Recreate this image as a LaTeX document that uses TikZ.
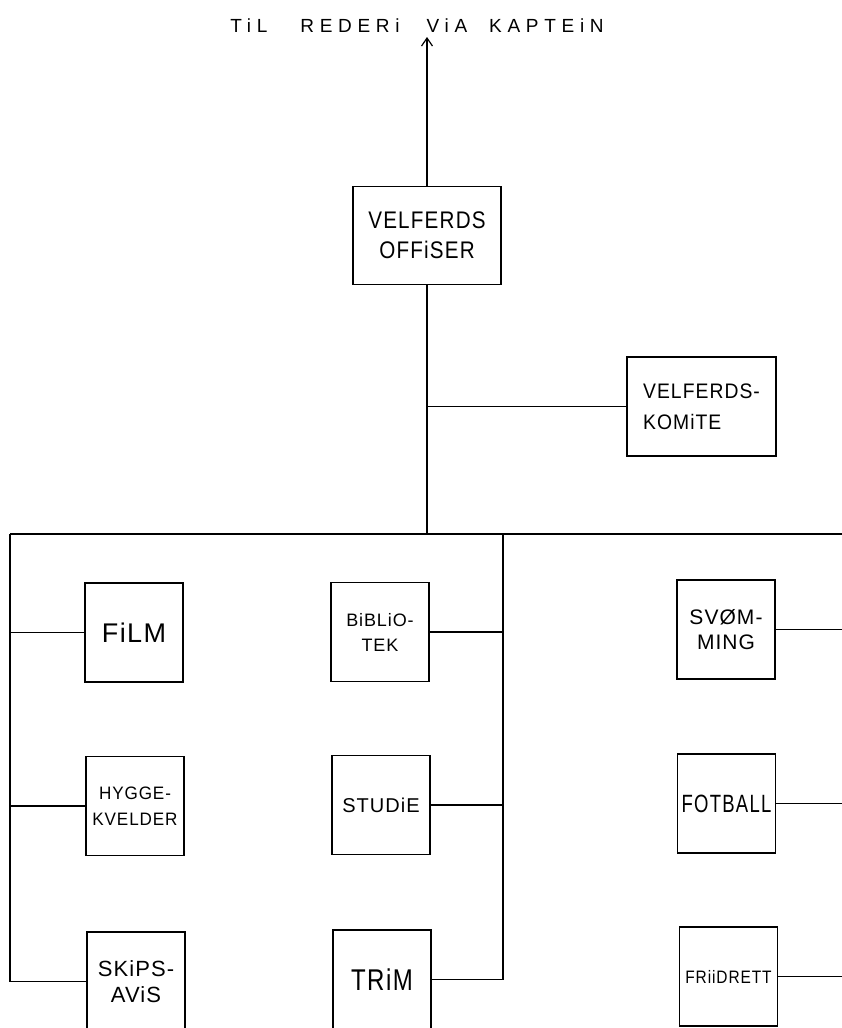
\documentclass[tikz,border=0pt]{standalone}
\usepackage{fontspec}
\usetikzlibrary{arrows.meta}
\newfontfamily\hand[LetterSpace=5]{Liberation Sans}
\newfontfamily\handwide[LetterSpace=30]{Liberation Sans}
\tikzset{
  box/.style={draw, line width=1.2pt, inner sep=0pt, align=center,
    minimum width=98, minimum height=99},
  wire/.style={line width=1.2pt},
  hf/.style n args={3}{font=\hand\addfontfeatures{FakeStretch=#2}\fontsize{#1}{#3}\selectfont}
}
\begin{document}
\begin{tikzpicture}[x=1pt,y=-1pt]
\useasboundingbox (0,0) rectangle (842,1028);
\clip (0,0) rectangle (842,1028);
\fill[white] (0,0) rectangle (842,1028);

% title
\node[font=\handwide\fontsize{19}{20}\selectfont, inner sep=0pt] (title) at (417,26) {TiL\hspace{33pt}REDERi\hspace{27pt}ViA\hspace{22pt}KAPTEiN};

% top boxes
\node[box, minimum width=148, minimum height=98, hf={24}{0.86}{30}] (vo) at (427,235.5) {VELFERDS\\OFFiSER};
\node[box, minimum width=149, minimum height=99, align=left, hf={21}{0.92}{31}] (vk) at (701.5,406.5) {VELFERDS-\\KOMiTE};

% coordinates
\coordinate (top) at (427,37);
\coordinate (busTop) at (427,534);
\coordinate (busL) at (10,534);
\coordinate (busR) at (842,534);
\coordinate (busM) at (503,534);

% left column
\node[box, hf={27}{1}{30}] (fi) at (134,632.5) {FiLM};
\node[box, hf={18}{0.95}{26}] (hy) at (135,806) {HYGGE-\\KVELDER};
\node[box, hf={22}{1}{26}] (sk) at (136,981.5) {SKiPS-\\AViS};

% middle column
\node[box, hf={18}{1}{25}] (bi) at (380,632) {BiBLiO-\\TEK};
\node[box, hf={20}{1}{25}] (st) at (381,805) {STUDiE};
\node[box, hf={30}{0.8}{30}] (tr) at (382,979.5) {TRiM};

% right column
\node[box, hf={21}{1}{25}] (sv) at (726,629.5) {SVØM-\\MING};
\node[box, hf={25}{0.74}{25}] (fo) at (726.5,803.5) {FOTBALL};
\node[box, hf={18}{0.86}{25}] (fr) at (728.5,976.5) {FRiiDRETT};

% connectors
\draw[wire, -{Straight Barb[length=8pt, width=11pt]}] (vo.north) -- (top);
\draw[wire] (vo.south) -- (busTop);
\draw[wire] (vk.west) -- (vk.west -| busTop);
\draw[wire] (busL) -- (busR);

\draw[wire] (busL) |- (sk.west);
\draw[wire] (fi.west) -- (fi.west -| busL);
\draw[wire] (hy.west) -- (hy.west -| busL);

\draw[wire] (busM) |- (tr.east);
\draw[wire] (bi.east) -- (bi.east -| busM);
\draw[wire] (st.east) -- (st.east -| busM);

\draw[wire] (sv.east) -- (sv.east -| busR);
\draw[wire] (fo.east) -- (fo.east -| busR);
\draw[wire] (fr.east) -- (fr.east -| busR);
\end{tikzpicture}
\end{document}
